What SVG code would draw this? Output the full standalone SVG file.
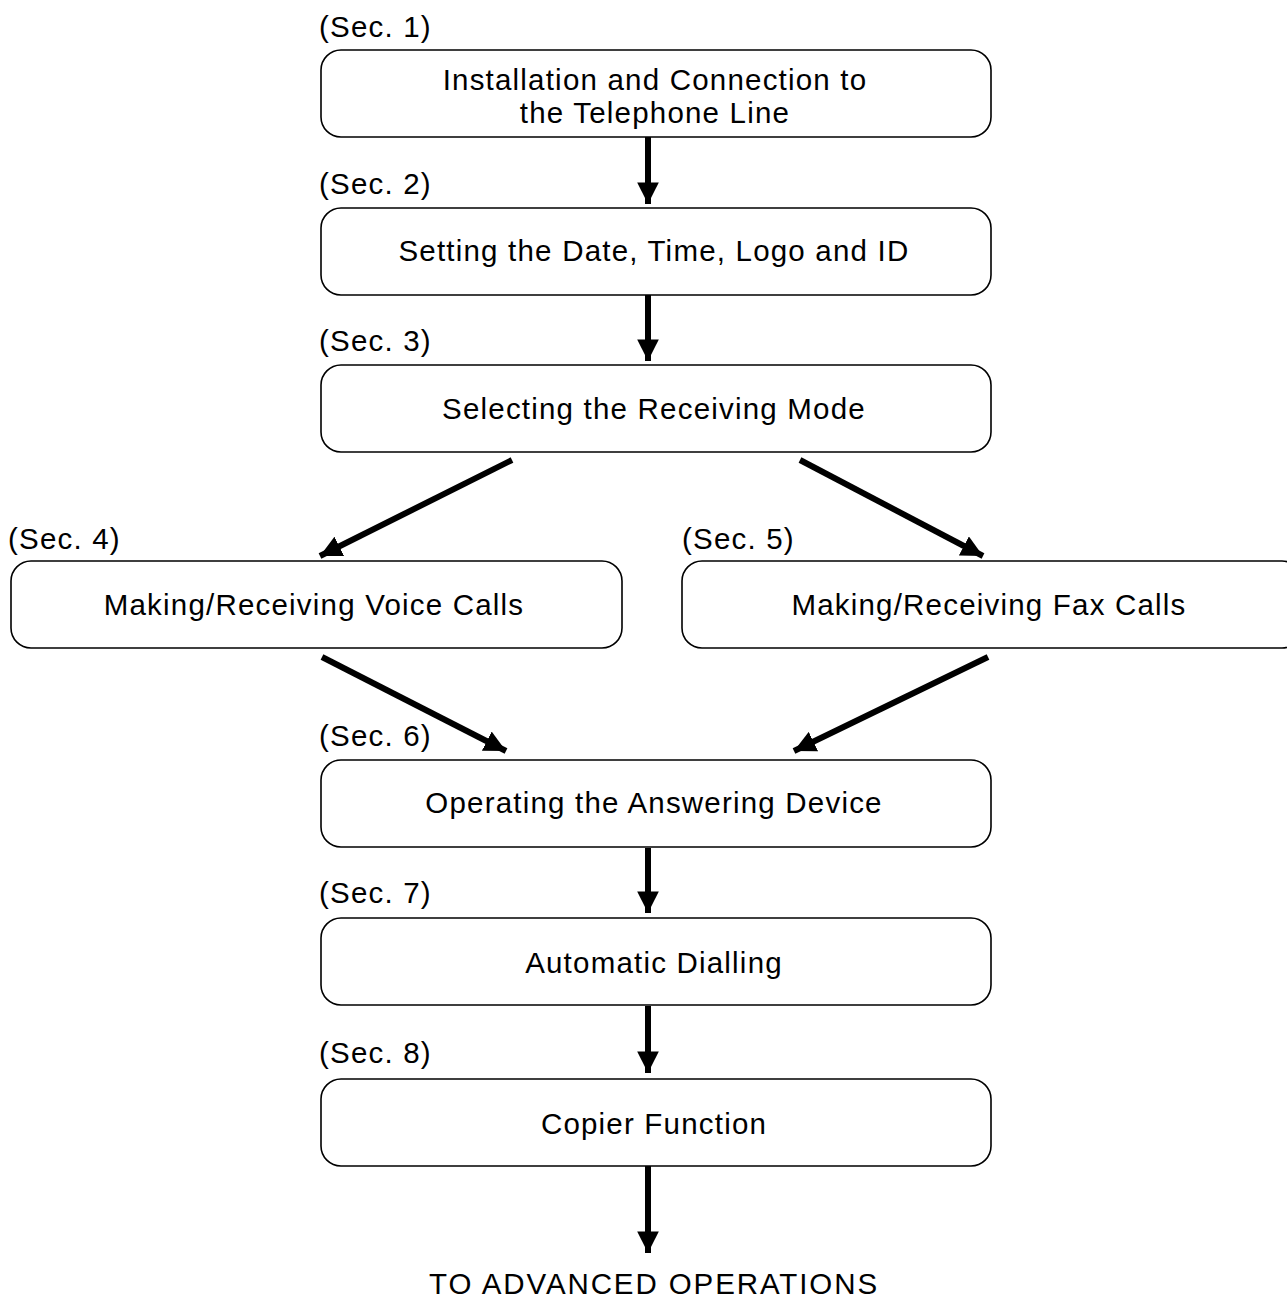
<svg xmlns="http://www.w3.org/2000/svg" width="1287" height="1298" viewBox="0 0 1287 1298">
<defs>
<marker id="ah" viewBox="0 0 10 10" refX="10" refY="5" markerWidth="3.6" markerHeight="3.6" markerUnits="strokeWidth" orient="auto">
<path d="M0,0 L10,5 L0,10 z" fill="#000"/>
</marker>
</defs>
<style>
.box{fill:#fff;stroke:#000;stroke-width:1.6}
.t{font-family:"Liberation Sans",Arial,Helvetica,sans-serif;font-size:29.5px;letter-spacing:1.2px;fill:#000;text-anchor:middle}
.s{font-family:"Liberation Sans",Arial,Helvetica,sans-serif;font-size:29.5px;letter-spacing:1.2px;fill:#000}
.e{letter-spacing:1.9px}
.c{stroke:#000;stroke-width:6;fill:none;marker-end:url(#ah)}
</style>
<rect width="1287" height="1298" fill="#fff"/>
<g id="connectors">
<line class="c" x1="648" y1="137" x2="648" y2="204"/>
<line class="c" x1="648" y1="295" x2="648" y2="361"/>
<line class="c" x1="512" y1="460" x2="320" y2="556"/>
<line class="c" x1="800" y1="460" x2="983" y2="556"/>
<line class="c" x1="322" y1="657" x2="506" y2="751"/>
<line class="c" x1="988" y1="657" x2="794" y2="751"/>
<line class="c" x1="648" y1="848" x2="648" y2="913"/>
<line class="c" x1="648" y1="1006" x2="648" y2="1073"/>
<line class="c" x1="648" y1="1166" x2="648" y2="1253"/>
</g>
<g id="n1">
<text class="s" x="319" y="37">(Sec. 1)</text>
<rect class="box" x="321" y="50" width="670" height="87" rx="20"/>
<text class="t" x="655" y="90">Installation and Connection to</text>
<text class="t" x="655" y="123">the Telephone Line</text>
</g>
<g id="n2">
<text class="s" x="319" y="194">(Sec. 2)</text>
<rect class="box" x="321" y="208" width="670" height="87" rx="20"/>
<text class="t" x="654" y="261">Setting the Date, Time, Logo and ID</text>
</g>
<g id="n3">
<text class="s" x="319" y="351">(Sec. 3)</text>
<rect class="box" x="321" y="365" width="670" height="87" rx="20"/>
<text class="t" x="654" y="419">Selecting the Receiving Mode</text>
</g>
<g id="n4">
<text class="s" x="8" y="549">(Sec. 4)</text>
<rect class="box" x="11" y="561" width="611" height="87" rx="20"/>
<text class="t" x="314" y="615">Making/Receiving Voice Calls</text>
</g>
<g id="n5">
<text class="s" x="682" y="549">(Sec. 5)</text>
<rect class="box" x="682" y="561" width="620" height="87" rx="20"/>
<text class="t" x="989" y="615">Making/Receiving Fax Calls</text>
</g>
<g id="n6">
<text class="s" x="319" y="746">(Sec. 6)</text>
<rect class="box" x="321" y="760" width="670" height="87" rx="20"/>
<text class="t" x="654" y="813">Operating the Answering Device</text>
</g>
<g id="n7">
<text class="s" x="319" y="903">(Sec. 7)</text>
<rect class="box" x="321" y="918" width="670" height="87" rx="20"/>
<text class="t" x="654" y="973">Automatic Dialling</text>
</g>
<g id="n8">
<text class="s" x="319" y="1063">(Sec. 8)</text>
<rect class="box" x="321" y="1079" width="670" height="87" rx="20"/>
<text class="t" x="654" y="1134">Copier Function</text>
</g>
<g id="end">
<text class="t e" x="654" y="1294">TO ADVANCED OPERATIONS</text>
</g>
</svg>
